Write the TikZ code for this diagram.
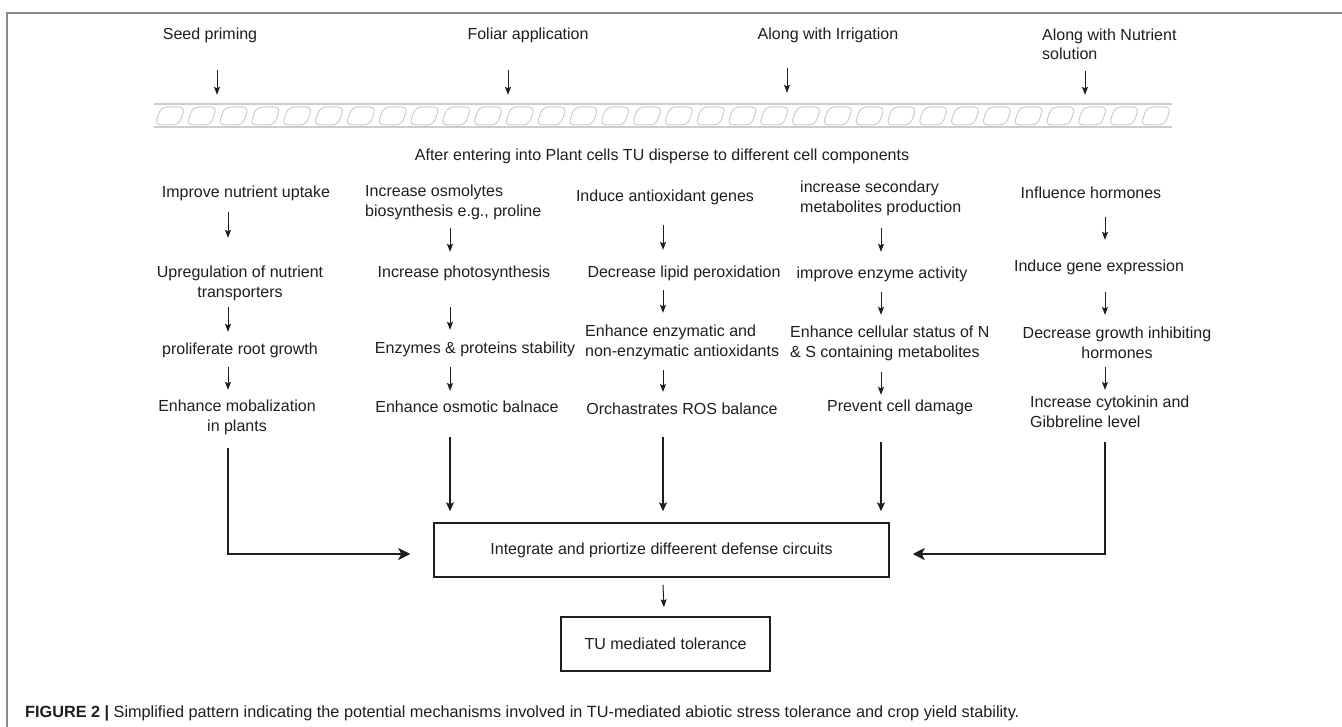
\documentclass[tikz,border=0pt]{standalone}
\usepackage{fontspec}
\setmainfont{Liberation Sans}
\usepackage{tikz}
\usetikzlibrary{arrows.meta,positioning}
\definecolor{ink}{HTML}{1E1E1E}
\definecolor{framegray}{HTML}{8A8A8A}
\definecolor{cellgray}{HTML}{CDCDCD}
\tikzstyle{arrow} = [line width=1pt,draw=ink,-{Stealth[length=8pt,width=6pt,inset=1.5pt]}]
\tikzstyle{link} = [line width=1.3pt,draw=ink]
\tikzset{
 txt/.style
  = {font=\fontsize{16}{20}\selectfont, text=ink, inner sep=0pt},
 box/.style
  = {rectangle, draw=ink, line width=1.5pt, minimum height=54pt, inner sep=0pt,
     font=\fontsize{16}{20}\selectfont, text=ink},
 gap/.style 2 args
  = {shorten <=#1, shorten >=#2},
 cell/.style
  = {draw=cellgray, line width=1pt, rounded corners=6pt},
 bigtip/.style
  = {-{Stealth[length=12pt,width=12pt,inset=3pt]}},
 midtip/.style
  = {-{Stealth[length=9pt,width=8pt,inset=2pt]}},
}

\begin{document}
\begin{tikzpicture}[x=1pt, y=-1pt]
\useasboundingbox (0,0) rectangle (1342,727);

% Frame
\draw[framegray, line width=1.5pt] (1342,13) -- (7,13) -- (7,727);

% Application routes
\node[txt] (seed) at (210,35) {Seed priming};
\node[txt] (foliar) at (528,35) {Foliar application};
\node[txt] (irrig) at (828,35) {Along with Irrigation};
\node[txt, align=left, anchor=west, font=\fontsize{16}{19}\selectfont] (nutr) at (1042,44) {Along with Nutrient\\solution};

% Cell layer
\node[minimum width=1018pt, minimum height=23pt, inner sep=0pt] (layer) at (663,115.5) {};
\draw[cellgray, line width=1.5pt] (layer.north west) -- (layer.north east);
\draw[cellgray, line width=1.5pt] (layer.south west) -- (layer.south east);
\foreach \i in {0,...,31}{
  \pgfmathsetmacro\cx{154+\i*31.8}
  \draw[cell] (\cx+1,125) -- (\cx+7,107) -- (\cx+31,107) -- (\cx+25,125) -- cycle;
}

\coordinate (t1) at (217,0);
\coordinate (t2) at (508,0);
\coordinate (t3) at (787,0);
\coordinate (t4) at (1085,0);
\draw[arrow, gap={27.5pt}{9pt}] (seed.south -| t1) -- (layer.north -| t1);
\draw[arrow, gap={27.5pt}{9pt}] (foliar.south -| t2) -- (layer.north -| t2);
\draw[arrow, gap={25.5pt}{11pt}] (irrig.south -| t3) -- (layer.north -| t3);
\draw[arrow, gap={11pt}{9pt}] (nutr.south -| t4) -- (layer.north -| t4);

\node[txt] (enter) at (662,156) {After entering into Plant cells TU disperse to different cell components};

% Column 1
\coordinate (x1) at (228,0);
\node[txt] (c1a) at (246,193) {Improve nutrient uptake};
\node[txt, align=center] (c1b) at (240,283) {Upregulation of nutrient\\transporters};
\node[txt] (c1c) at (240,350) {proliferate root growth};
\node[txt, align=center] (c1d) at (237,417) {Enhance mobalization\\in plants};
\draw[arrow, gap={11.5pt}{27.5pt}] (c1a.south -| x1) -- (c1b.north -| x1);
\draw[arrow, gap={6.5pt}{10.5pt}] (c1b.south -| x1) -- (c1c.north -| x1);
\draw[arrow, gap={9.5pt}{9.5pt}] (c1c.south -| x1) -- (c1d.north -| x1);

% Column 2
\coordinate (x2) at (450,0);
\node[txt, align=left, anchor=west] (c2a) at (365,202) {Increase osmolytes\\biosynthesis e.g., proline};
\node[txt] (c2b) at (464,273) {Increase photosynthesis};
\node[txt] (c2c) at (475,349) {Enzymes \& proteins stability};
\node[txt] (c2d) at (467,407) {Enhance osmotic balnace};
\draw[arrow, gap={8.5pt}{13.5pt}] (c2a.south -| x2) -- (c2b.north -| x2);
\draw[arrow, gap={26.5pt}{11.5pt}] (c2b.south -| x2) -- (c2c.north -| x2);
\draw[arrow, gap={10.5pt}{10pt}] (c2c.south -| x2) -- (c2d.north -| x2);

% Column 3
\coordinate (x3) at (663,0);
\node[txt] (c3a) at (665,197) {Induce antioxidant genes};
\node[txt] (c3b) at (684,273) {Decrease lipid peroxidation};
\node[txt, align=left, anchor=west] (c3c) at (585,342) {Enhance enzymatic and\\non-enzymatic antioxidants};
\node[txt] (c3d) at (682,409) {Orchastrates ROS balance};
\draw[arrow, gap={20.5pt}{15.5pt}] (c3a.south -| x3) -- (c3b.north -| x3);
\draw[arrow, gap={9.5pt}{11.5pt}] (c3b.south -| x3) -- (c3c.north -| x3);
\draw[arrow, gap={10.5pt}{11pt}] (c3c.south -| x3) -- (c3d.north -| x3);

% Column 4
\coordinate (x4) at (881,0);
\node[txt, align=left, anchor=west] (c4a) at (800,198) {increase secondary\\metabolites production};
\node[txt] (c4b) at (882,274) {improve enzyme activity};
\node[txt, align=left, anchor=west] (c4c) at (790,343) {Enhance cellular status of N\\\& S containing metabolites};
\node[txt] (c4d) at (900,407) {Prevent cell damage};
\draw[arrow, gap={12.5pt}{14.5pt}] (c4a.south -| x4) -- (c4b.north -| x4);
\draw[arrow, gap={10.5pt}{10.5pt}] (c4b.south -| x4) -- (c4c.north -| x4);
\draw[arrow, gap={11.5pt}{4.5pt}] (c4c.south -| x4) -- (c4d.north -| x4);

% Column 5
\coordinate (x5) at (1105,0);
\node[txt] (c5a) at (1091,193) {Influence hormones};
\node[txt] (c5b) at (1099,267) {Induce gene expression};
\node[txt, align=center] (c5c) at (1117,343) {Decrease growth inhibiting\\hormones};
\node[txt, align=left, anchor=west] (c5d) at (1030,412) {Increase cytokinin and\\Gibbreline level};
\draw[arrow, gap={18pt}{19.5pt}] (c5a.south -| x5) -- (c5b.north -| x5);
\draw[arrow, gap={17.5pt}{12pt}] (c5b.south -| x5) -- (c5c.north -| x5);
\draw[arrow, gap={8pt}{6pt}] (c5c.south -| x5) -- (c5d.north -| x5);

% Integration
\node[box, minimum width=455pt] (integ) at (661.5,550) {Integrate and priortize diffeerent defense circuits};
\node[box, minimum width=209pt] (tol) at (665.5,644) {TU mediated tolerance};

\draw[link, bigtip, gap={13.5pt}{23pt}] (c1d.south -| x1) |- ([yshift=-4pt]integ.west);
\draw[link, midtip, gap={24pt}{11pt}] (c2d.south -| x2) -- (integ.north -| x2);
\draw[link, midtip, gap={22pt}{11pt}] (c3d.south -| x3) -- (integ.north -| x3);
\draw[link, midtip, gap={27.5pt}{11pt}] (c4d.south -| x4) -- (integ.north -| x4);
\draw[link, bigtip, gap={14pt}{23pt}] (c5d.south -| x5) |- ([yshift=-4pt]integ.east);
\draw[arrow, gap={7pt}{9pt}] (integ) -- (tol);

% Caption
\node[txt, anchor=west, font=\fontsize{16.25}{20}\selectfont] (cap) at (25,713) {\textbf{FIGURE 2 |} Simplified pattern indicating the potential mechanisms involved in TU-mediated abiotic stress tolerance and crop yield stability.};
\end{tikzpicture}
\end{document}
